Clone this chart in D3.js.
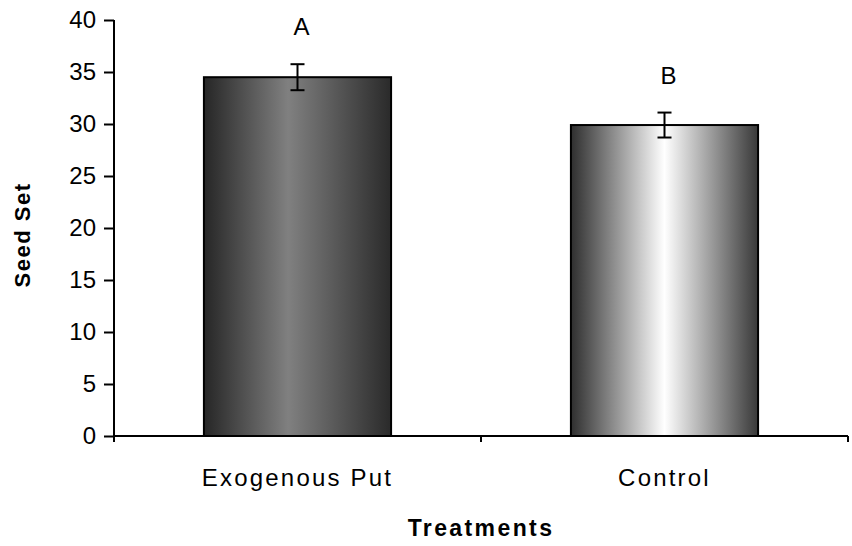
<!DOCTYPE html>
<html>
<head>
<meta charset="utf-8">
<script src="https://cdn.jsdelivr.net/npm/d3@7"></script>
<style>
  html, body { margin: 0; padding: 0; background: #fff; }
  svg { display: block; }
  text { font-family: "Liberation Sans", Arial, sans-serif; fill: #000; }
</style>
</head>
<body>
<svg id="chart" width="852" height="546"></svg>
<script>
// Seed set per treatment, with standard errors and significance letters
const categories = ["Exogenous Put", "Control"];
const seedSet = [34.5, 29.9];
const stdErr = [1.25, 1.2];
const sigLetters = ["A", "B"];
const yTicks = [0, 5, 10, 15, 20, 25, 30, 35, 40];

const svg = d3.select("#chart");
const plotL = 114, plotR = 848, plotT = 20, plotB = 436;

const x = d3.scaleBand().domain(categories).range([plotL, plotR])
  .paddingInner(0.49).paddingOuter(0.245);
const y = d3.scaleLinear().domain([0, 40]).range([plotB, plotT]);

// Horizontal shading for each bar
const defs = svg.append("defs");
const shades = [
  [["0%", "#262626"], ["45%", "#808080"], ["100%", "#2a2a2a"]],
  [["0%", "#2e2e2e"], ["50%", "#ffffff"], ["100%", "#383838"]]
];
shades.forEach((stops, i) => {
  const g = defs.append("linearGradient").attr("id", "shade" + i)
    .attr("x1", "0%").attr("x2", "100%").attr("y1", "0%").attr("y2", "0%");
  stops.forEach(s => g.append("stop").attr("offset", s[0]).attr("stop-color", s[1]));
});

// Bars
svg.append("g").selectAll("rect").data(categories).join("rect")
  .attr("x", d => x(d))
  .attr("y", (d, i) => y(seedSet[i]))
  .attr("width", x.bandwidth())
  .attr("height", (d, i) => y(0) - y(seedSet[i]))
  .attr("fill", (d, i) => `url(#shade${i})`)
  .attr("stroke", "#000").attr("stroke-width", 2);

// Error bars
const err = svg.append("g").attr("stroke", "#000").attr("stroke-width", 2);
categories.forEach((c, i) => {
  const cx = x(c) + x.bandwidth() / 2;
  const hi = y(seedSet[i] + stdErr[i]), lo = y(seedSet[i] - stdErr[i]);
  err.append("line").attr("x1", cx).attr("x2", cx).attr("y1", hi).attr("y2", lo);
  err.append("line").attr("x1", cx - 7).attr("x2", cx + 7).attr("y1", hi).attr("y2", hi);
  err.append("line").attr("x1", cx - 7).attr("x2", cx + 7).attr("y1", lo).attr("y2", lo);
});

// Significance letters
svg.append("g").selectAll("text").data(categories).join("text")
  .attr("x", d => x(d) + x.bandwidth() / 2 + 4)
  .attr("y", (d, i) => y(seedSet[i] + stdErr[i]) - 29)
  .attr("text-anchor", "middle")
  .attr("font-size", 24)
  .text((d, i) => sigLetters[i]);

// Y axis
const yAxis = svg.append("g").attr("transform", `translate(${plotL},0)`)
  .call(d3.axisLeft(y).tickValues(yTicks).tickSize(10).tickPadding(8));
yAxis.select(".domain").attr("stroke-width", 2).attr("d", `M0,${plotT}V${plotB + 5}`);
yAxis.selectAll(".tick line").attr("stroke-width", 2);
yAxis.selectAll(".tick text").attr("font-size", 24).attr("fill", "#000")
  .attr("font-family", "Liberation Sans, Arial, sans-serif");

// X axis: category boundary ticks
const xAxis = svg.append("g").attr("transform", `translate(0,${plotB})`);
xAxis.append("line").attr("x1", plotL).attr("x2", plotR).attr("y1", 0).attr("y2", 0)
  .attr("stroke", "#000").attr("stroke-width", 2);
const bounds = [plotL, plotL + x.step(), plotR];
xAxis.selectAll("line.b").data(bounds).join("line").attr("class", "b")
  .attr("x1", d => d).attr("x2", d => d).attr("y1", 0).attr("y2", 6)
  .attr("stroke", "#000").attr("stroke-width", 2);
xAxis.selectAll("text").data(categories).join("text")
  .attr("x", d => x(d) + x.bandwidth() / 2)
  .attr("y", 50)
  .attr("text-anchor", "middle")
  .attr("font-size", 24)
  .attr("letter-spacing", 2.2)
  .text(d => d);

// Axis titles
svg.append("text")
  .attr("transform", "translate(30,235) rotate(-90)")
  .attr("text-anchor", "middle")
  .attr("font-size", 22).attr("font-weight", "bold").attr("letter-spacing", 1.5)
  .text("Seed Set");
svg.append("text")
  .attr("x", 481).attr("y", 536)
  .attr("text-anchor", "middle")
  .attr("font-size", 23).attr("font-weight", "bold").attr("letter-spacing", 2.4)
  .text("Treatments");
</script>
</body>
</html>
